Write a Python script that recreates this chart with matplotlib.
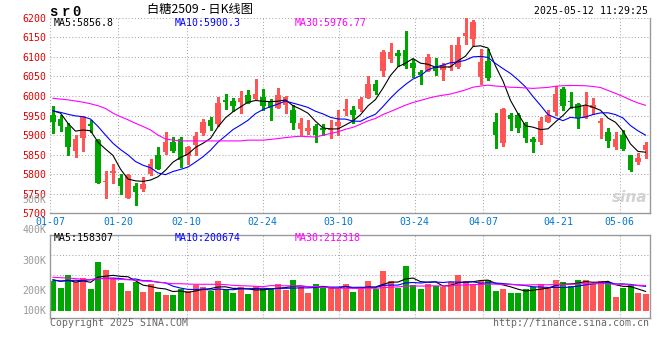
import matplotlib
matplotlib.use('Agg')
import matplotlib.pyplot as plt

# daily candles, 2025-01-07 .. 2025-05-12 (80 trading days)
opens = [5951, 5941, 5920, 5859, 5893, 5929, 5888, 5779, 5804, 5789,
         5740, 5770, 5762, 5800, 5849, 5857, 5883, 5890, 5847, 5875,
         5904, 5939, 5927, 5990, 5987, 5985, 6002, 5992, 5998, 5987,
         5970, 5977, 5964, 5916, 5911, 5923, 5917, 5913, 5922, 5962,
         5964, 5967, 5996, 6031, 6064, 6094, 6111, 6117, 6083, 6060,
         6064, 6073, 6066, 6071, 6075, 6154, 6146, 6049, 6089, 5934,
         5879, 5951, 5951, 5930, 5890, 5881, 5934, 5958, 6018, 5988,
         5979, 5944, 5968, 5932, 5909, 5870, 5899, 5849, 5832, 5862]
highs = [5975, 5951, 5932, 5900, 5949, 5939, 5890, 5807, 5826, 5800,
         5800, 5777, 5792, 5839, 5869, 5907, 5894, 5896, 5872, 5909,
         5941, 5947, 5998, 6004, 5996, 6013, 6015, 6043, 6018, 5992,
         6021, 6000, 5977, 5943, 5939, 5927, 5927, 5939, 5964, 5992,
         5975, 5998, 6051, 6041, 6117, 6136, 6117, 6166, 6094, 6066,
         6106, 6098, 6083, 6130, 6150, 6198, 6194, 6120, 6120, 5957,
         5968, 5957, 5957, 5934, 5896, 5947, 5964, 6025, 6024, 6009,
         5981, 6009, 5996, 5943, 5917, 5907, 5913, 5849, 5853, 5881]
lows = [5904, 5910, 5849, 5845, 5858, 5909, 5778, 5740, 5778, 5749,
        5740, 5721, 5758, 5798, 5813, 5851, 5856, 5819, 5826, 5849,
        5900, 5913, 5924, 5967, 5962, 5957, 5982, 5992, 5964, 5939,
        5970, 5957, 5916, 5900, 5902, 5883, 5899, 5893, 5900, 5951,
        5930, 5962, 5994, 6004, 6051, 6088, 6077, 6072, 6049, 6031,
        6063, 6054, 6041, 6066, 6072, 6133, 6130, 6031, 6041, 5866,
        5873, 5913, 5907, 5881, 5856, 5877, 5933, 5951, 5964, 5970,
        5919, 5943, 5953, 5893, 5870, 5864, 5862, 5807, 5825, 5841]
closes = [5934, 5924, 5870, 5890, 5947, 5924, 5778, 5782, 5809, 5771,
          5798, 5755, 5775, 5826, 5813, 5881, 5859, 5835, 5869, 5898,
          5934, 5922, 5982, 5985, 5975, 5996, 5982, 6004, 5975, 5970,
          6002, 5998, 5930, 5932, 5917, 5899, 5913, 5917, 5933, 5967,
          5951, 5992, 6031, 6013, 6113, 6113, 6103, 6077, 6072, 6054,
          6099, 6065, 6079, 6075, 6130, 6160, 6188, 6088, 6047, 5900,
          5967, 5941, 5917, 5893, 5883, 5936, 5951, 6005, 5975, 5985,
          5944, 5975, 5977, 5936, 5885, 5890, 5864, 5811, 5841, 5875]
# volume in thousands
volumes = [252, 196, 306, 247, 281, 187, 417, 349, 281, 238,
           170, 247, 162, 230, 162, 136, 136, 187, 170, 221,
           204, 170, 255, 179, 153, 204, 145, 213, 187, 187,
           230, 179, 264, 204, 153, 230, 196, 204, 187, 230,
           162, 190, 255, 184, 340, 255, 196, 385, 224, 187,
           232, 213, 204, 247, 306, 255, 232, 255, 264, 170,
           187, 153, 153, 187, 204, 230, 196, 264, 247, 213,
           264, 264, 232, 255, 247, 119, 196, 221, 153, 145]

# moving-average values before enough days are on the chart
ma5_head = [5962, 5956, 5930, 5910]
ma10_head = [5962, 5958, 5953, 5949, 5947, 5941, 5922, 5900, 5879]
ma30_head = [5994, 5992, 5990, 5987, 5984, 5980, 5975, 5968, 5956, 5947,
             5939, 5930, 5922, 5913, 5900, 5890, 5887, 5885, 5885, 5885,
             5885, 5885, 5885, 5885, 5885, 5885, 5887, 5887, 5887]
vma5_head = [266, 252, 261, 246]
vma10_head = [261, 255, 258, 261, 258, 266, 275, 278, 280]
vma30_head = [286, 283, 280, 275, 269, 266, 275, 275, 272, 269,
              266, 261, 255, 252, 246, 238, 232, 232, 229, 227,
              227, 227, 227, 224, 218, 215, 213, 210, 207]

date_labels = ['01-07', '01-20', '02-10', '02-24', '03-10', '03-24', '04-07', '04-21', '05-06']
date_index = [0, 9, 18, 28, 38, 48, 57, 67, 75]
price_ticks = [6200, 6150, 6100, 6050, 6000, 5950, 5900, 5850, 5800, 5750, 5700]
vol_labels = ['500K', '400K', '300K', '200K', '100K']

symbol = 'sr0'
title = '白糖2509 - 日K线图'
stamp = '2025-05-12 11:29:25'
ma_text = ['MA5:5856.8', 'MA10:5900.3', 'MA30:5976.77']
vma_text = ['MA5:158307', 'MA10:200674', 'MA30:212318']

RED = '#ff5555'
GREEN = '#00a600'
GRID = '#aaaaaa'
MONO = 'DejaVu Sans Mono'
W, H = 660, 360


def moving_avg(vals, n, head):
    out = []
    for i in range(len(vals)):
        if i < n - 1:
            out.append(head[i])
        else:
            out.append(sum(vals[i - n + 1:i + 1]) / n)
    return out


def fx(x):
    return x / W


def fy(y):
    return 1 - y / H


fig = plt.figure(figsize=(6.6, 3.6), dpi=100)
fig.patch.set_facecolor('white')

n = len(closes)
xs = list(range(n))
cols = [RED if c >= o else GREEN for o, c in zip(opens, closes)]
# sina draws date grid on a slightly wider step than candles
gx = [i * n / (n - 1) - 0.4 for i in date_index]

# ---- price panel
ax = fig.add_axes([fx(50), fy(213.3), 600 / W, 195.6 / H])
ax.set_xlim(-0.4, n - 0.4)
ax.set_ylim(5700, 6200)
for p in price_ticks[:-1]:
    ax.axhline(p, color=GRID, lw=0.75, ls=(0, (1, 2)), zorder=0)
for g in gx:
    ax.axvline(g, color=GRID, lw=0.75, ls=(0, (1, 2)), zorder=0)

bottoms = [min(o, c) for o, c in zip(opens, closes)]
heights = [max(abs(c - o), 2.6) for o, c in zip(opens, closes)]
ax.vlines(xs, lows, highs, colors=cols, lw=0.75, zorder=2, antialiased=False)
ax.bar(xs, heights, 0.68, bottoms, color=cols, lw=0, zorder=3, antialiased=False)

ax.plot(xs, moving_avg(closes, 5, ma5_head), color='black', lw=0.8, zorder=4)
ax.plot(xs, moving_avg(closes, 10, ma10_head), color='#0000ff', lw=0.8, zorder=4)
ax.plot(xs, moving_avg(closes, 30, ma30_head), color='#ff00ff', lw=0.8, zorder=4)

ax.set_yticks(price_ticks)
ax.set_yticklabels([str(p) for p in price_ticks], color='#e00000', family=MONO, fontsize=7.1)
ax.set_xticks(gx)
ax.set_xticklabels(date_labels, color='#0077cc', family=MONO, fontsize=7.1)
ax.tick_params(length=0, pad=2.4)
ax.tick_params(axis='x', pad=2.6)
for lab in ax.get_yticklabels():
    lab.set_y(lab.get_position()[1])
for s in ['top', 'left']:
    ax.spines[s].set_visible(False)
for s in ['bottom', 'right']:
    ax.spines[s].set_color('#999999')
    ax.spines[s].set_linewidth(1)

ax.text(0.996, 0.04, 'sina', transform=ax.transAxes, ha='right', va='bottom',
        fontsize=11, fontweight='bold', style='italic', color='#d2d2d2', zorder=1)

# ---- volume panel
vx = fig.add_axes([fx(50), fy(318.3), 600 / W, 83.8 / H])
vx.set_xlim(-0.4, n - 0.4)
vx.set_ylim(-62, 650)
for f in [0.7518, 0.513]:
    vx.plot([0, 1], [f, f], transform=vx.transAxes, color=GRID, lw=0.75, ls=(0, (1, 2)), zorder=0)
for g in gx:
    vx.axvline(g, color=GRID, lw=0.75, ls=(0, (1, 2)), zorder=0)
vx.bar(xs, volumes, 0.8, 0, color=cols, lw=0, zorder=2, antialiased=False)
vx.plot(xs, moving_avg(volumes, 5, vma5_head), color='black', lw=0.8, zorder=4)
vx.plot(xs, moving_avg(volumes, 10, vma10_head), color='#0000ff', lw=0.8, zorder=4)
vx.plot(xs, moving_avg(volumes, 30, vma30_head), color='#ff00ff', lw=0.8, zorder=4)
vx.set_xticks([])
vx.set_yticks([])
for s in vx.spines.values():
    s.set_color('#999999')
    s.set_linewidth(1)

# ---- texts
for ch, x in zip(symbol, [53.5, 66, 76.5]):
    fig.text(fx(x), fy(11.5), ch, family='Liberation Mono', fontweight='bold',
             fontsize=10, va='center', ha='center')
fig.text(fx(200), fy(9.5), title, family=['Noto Sans CJK SC', 'DejaVu Sans'],
         fontsize=8.8, ha='center', va='center')
fig.text(fx(648), fy(11.5), stamp, family=MONO, fontsize=7.1, ha='right', va='center')

ma_cols = ['black', '#0000ff', '#ff00ff']
ma_x = [54, 175, 295]
for t, c, x in zip(ma_text, ma_cols, ma_x):
    fig.text(fx(x), fy(22.5), t, family=MONO, fontsize=7.1, color=c, ha='left', va='center')
for t, c, x in zip(vma_text, ma_cols, ma_x):
    fig.text(fx(x), fy(238.3), t, family=MONO, fontsize=7.1, color=c, ha='left', va='center')

for t, y in zip(vol_labels, [200, 230.5, 260.5, 290.5, 310.5]):
    fig.text(fx(46.7), fy(y), t, family=MONO, fontsize=7.1, color='#999999', ha='right', va='center')

fig.text(fx(50), fy(323), 'Copyright 2025 SINA.COM', family=MONO, fontsize=7.1,
         color='#666666', ha='left', va='center')
fig.text(fx(649), fy(323), 'http://finance.sina.com.cn', family=MONO, fontsize=7.1,
         color='#666666', ha='right', va='center')

fig.savefig('out.png', dpi=100)
